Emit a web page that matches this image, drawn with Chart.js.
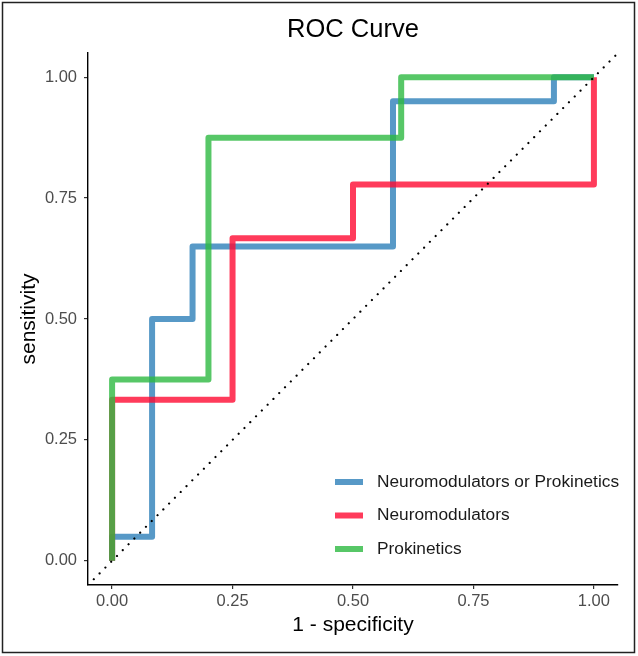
<!DOCTYPE html>
<html>
<head>
<meta charset="utf-8">
<script src="https://cdn.jsdelivr.net/npm/chart.js@4.4.1/dist/chart.umd.min.js"></script>
<style>
  body { margin: 0; background: #fff; }
  #wrap { width: 638px; height: 656px; }
</style>
</head>
<body>
<div id="wrap"><canvas id="roc" width="638" height="656"></canvas></div>
<script>
// ROC coordinates (1 - specificity, sensitivity)
const combinedFpr = [0, 0, 0.083, 0.083, 0.167, 0.167, 0.583, 0.583, 0.917, 0.917, 1];
const combinedTpr = [0, 0.05, 0.05, 0.5, 0.5, 0.65, 0.65, 0.95, 0.95, 1, 1];

const neuroFpr = [0, 0, 0.25, 0.25, 0.5, 0.5, 1, 1];
const neuroTpr = [0, 0.333, 0.333, 0.667, 0.667, 0.778, 0.778, 1];

const prokFpr = [0, 0, 0.2, 0.2, 0.6, 0.6, 1];
const prokTpr = [0, 0.375, 0.375, 0.875, 0.875, 1, 1];

// reference line y = x over the full panel
const refX = [-0.05, 1.05];
const refY = [-0.05, 1.05];

const seriesNames = ['Neuromodulators or Prokinetics', 'Neuromodulators', 'Prokinetics'];
const xTicks = [0, 0.25, 0.5, 0.75, 1];
const yTicks = [0, 0.25, 0.5, 0.75, 1];

const FONT = '"Liberation Sans", Arial, sans-serif';

const toPoints = (xs, ys) => xs.map((x, i) => ({ x: x, y: ys[i] }));

const rocLine = (label, xs, ys, color, order) => ({
    label: label,
    data: toPoints(xs, ys),
    showLine: true,
    borderColor: color,
    backgroundColor: color,
    borderWidth: 6,
    borderJoinStyle: 'round',
    borderCapStyle: 'butt',
    pointRadius: 0,
    pointHoverRadius: 0,
    tension: 0,
    order: order
});

// title, legend and the frame round the figure
const decorations = {
    id: 'decorations',
    afterDraw(chart) {
        const ctx = chart.ctx;
        const area = chart.chartArea;
        ctx.save();

        ctx.fillStyle = '#000';
        ctx.font = '25.5px ' + FONT;
        ctx.textAlign = 'center';
        ctx.textBaseline = 'middle';
        ctx.fillText('ROC Curve', (area.left + area.right) / 2, 30);

        const rows = chart.data.datasets.filter(d => seriesNames.includes(d.label));
        let y = 482;
        rows.forEach(ds => {
            ctx.strokeStyle = ds.borderColor;
            ctx.lineWidth = 6;
            ctx.beginPath();
            ctx.moveTo(335, y);
            ctx.lineTo(363, y);
            ctx.stroke();
            ctx.fillStyle = '#1a1a1a';
            ctx.font = '17.3px ' + FONT;
            ctx.textAlign = 'left';
            ctx.fillText(ds.label, 377, y);
            y += 33.5;
        });

        ctx.strokeStyle = '#222';
        ctx.lineWidth = 1.5;
        ctx.strokeRect(2.5, 2.5, 632, 650);
        ctx.restore();
    }
};

const ctx = document.getElementById('roc').getContext('2d');
const chart = new Chart(ctx, {
    type: 'scatter',
    data: {
        datasets: [
            rocLine(seriesNames[0], combinedFpr, combinedTpr, 'rgba(31,119,180,0.75)', 3),
            rocLine(seriesNames[1], neuroFpr, neuroTpr, 'rgba(255,10,50,0.8)', 2),
            rocLine(seriesNames[2], prokFpr, prokTpr, 'rgba(45,185,65,0.8)', 1),
            {
                label: 'reference',
                data: toPoints(refX, refY),
                showLine: true,
                borderColor: '#000',
                borderWidth: 2.2,
                borderDash: [0.01, 8.2],
                borderCapStyle: 'round',
                pointRadius: 0,
                order: 0
            }
        ]
    },
    options: {
        responsive: false,
        animation: false,
        events: [],
        layout: { padding: { left: 0, right: 20, top: 53, bottom: 0 } },
        plugins: {
            legend: { display: false },
            tooltip: { enabled: false },
            title: { display: false }
        },
        scales: {
            x: {
                type: 'linear',
                min: -0.05,
                max: 1.05,
                afterBuildTicks: scale => { scale.ticks = xTicks.map(v => ({ value: v })); },
                afterFit: scale => { scale.height = 71; },
                border: { display: true, color: '#000', width: 1.4 },
                grid: { display: true, drawOnChartArea: false, drawTicks: true, tickLength: 4, color: '#333', lineWidth: 1.2 },
                ticks: {
                    padding: 3,
                    color: '#4d4d4d',
                    font: { family: FONT, size: 16.5 },
                    maxRotation: 0,
                    callback: v => Number(v).toFixed(2)
                },
                title: {
                    display: true,
                    text: '1 - specificity',
                    color: '#000',
                    font: { family: FONT, size: 21 },
                    padding: { top: 0, bottom: 18 }
                }
            },
            y: {
                type: 'linear',
                min: -0.05,
                max: 1.05,
                afterBuildTicks: scale => { scale.ticks = yTicks.map(v => ({ value: v })); },
                afterFit: scale => { scale.width = 88; },
                border: { display: true, color: '#000', width: 1.4 },
                grid: { display: true, drawOnChartArea: false, drawTicks: true, tickLength: 4, color: '#333', lineWidth: 1.2 },
                ticks: {
                    padding: 7,
                    color: '#4d4d4d',
                    font: { family: FONT, size: 16.5 },
                    callback: v => Number(v).toFixed(2)
                },
                title: {
                    display: true,
                    text: 'sensitivity',
                    color: '#000',
                    font: { family: FONT, size: 21 },
                    padding: { top: 17, bottom: 0 }
                }
            }
        }
    },
    plugins: [decorations]
});
</script>
</body>
</html>
